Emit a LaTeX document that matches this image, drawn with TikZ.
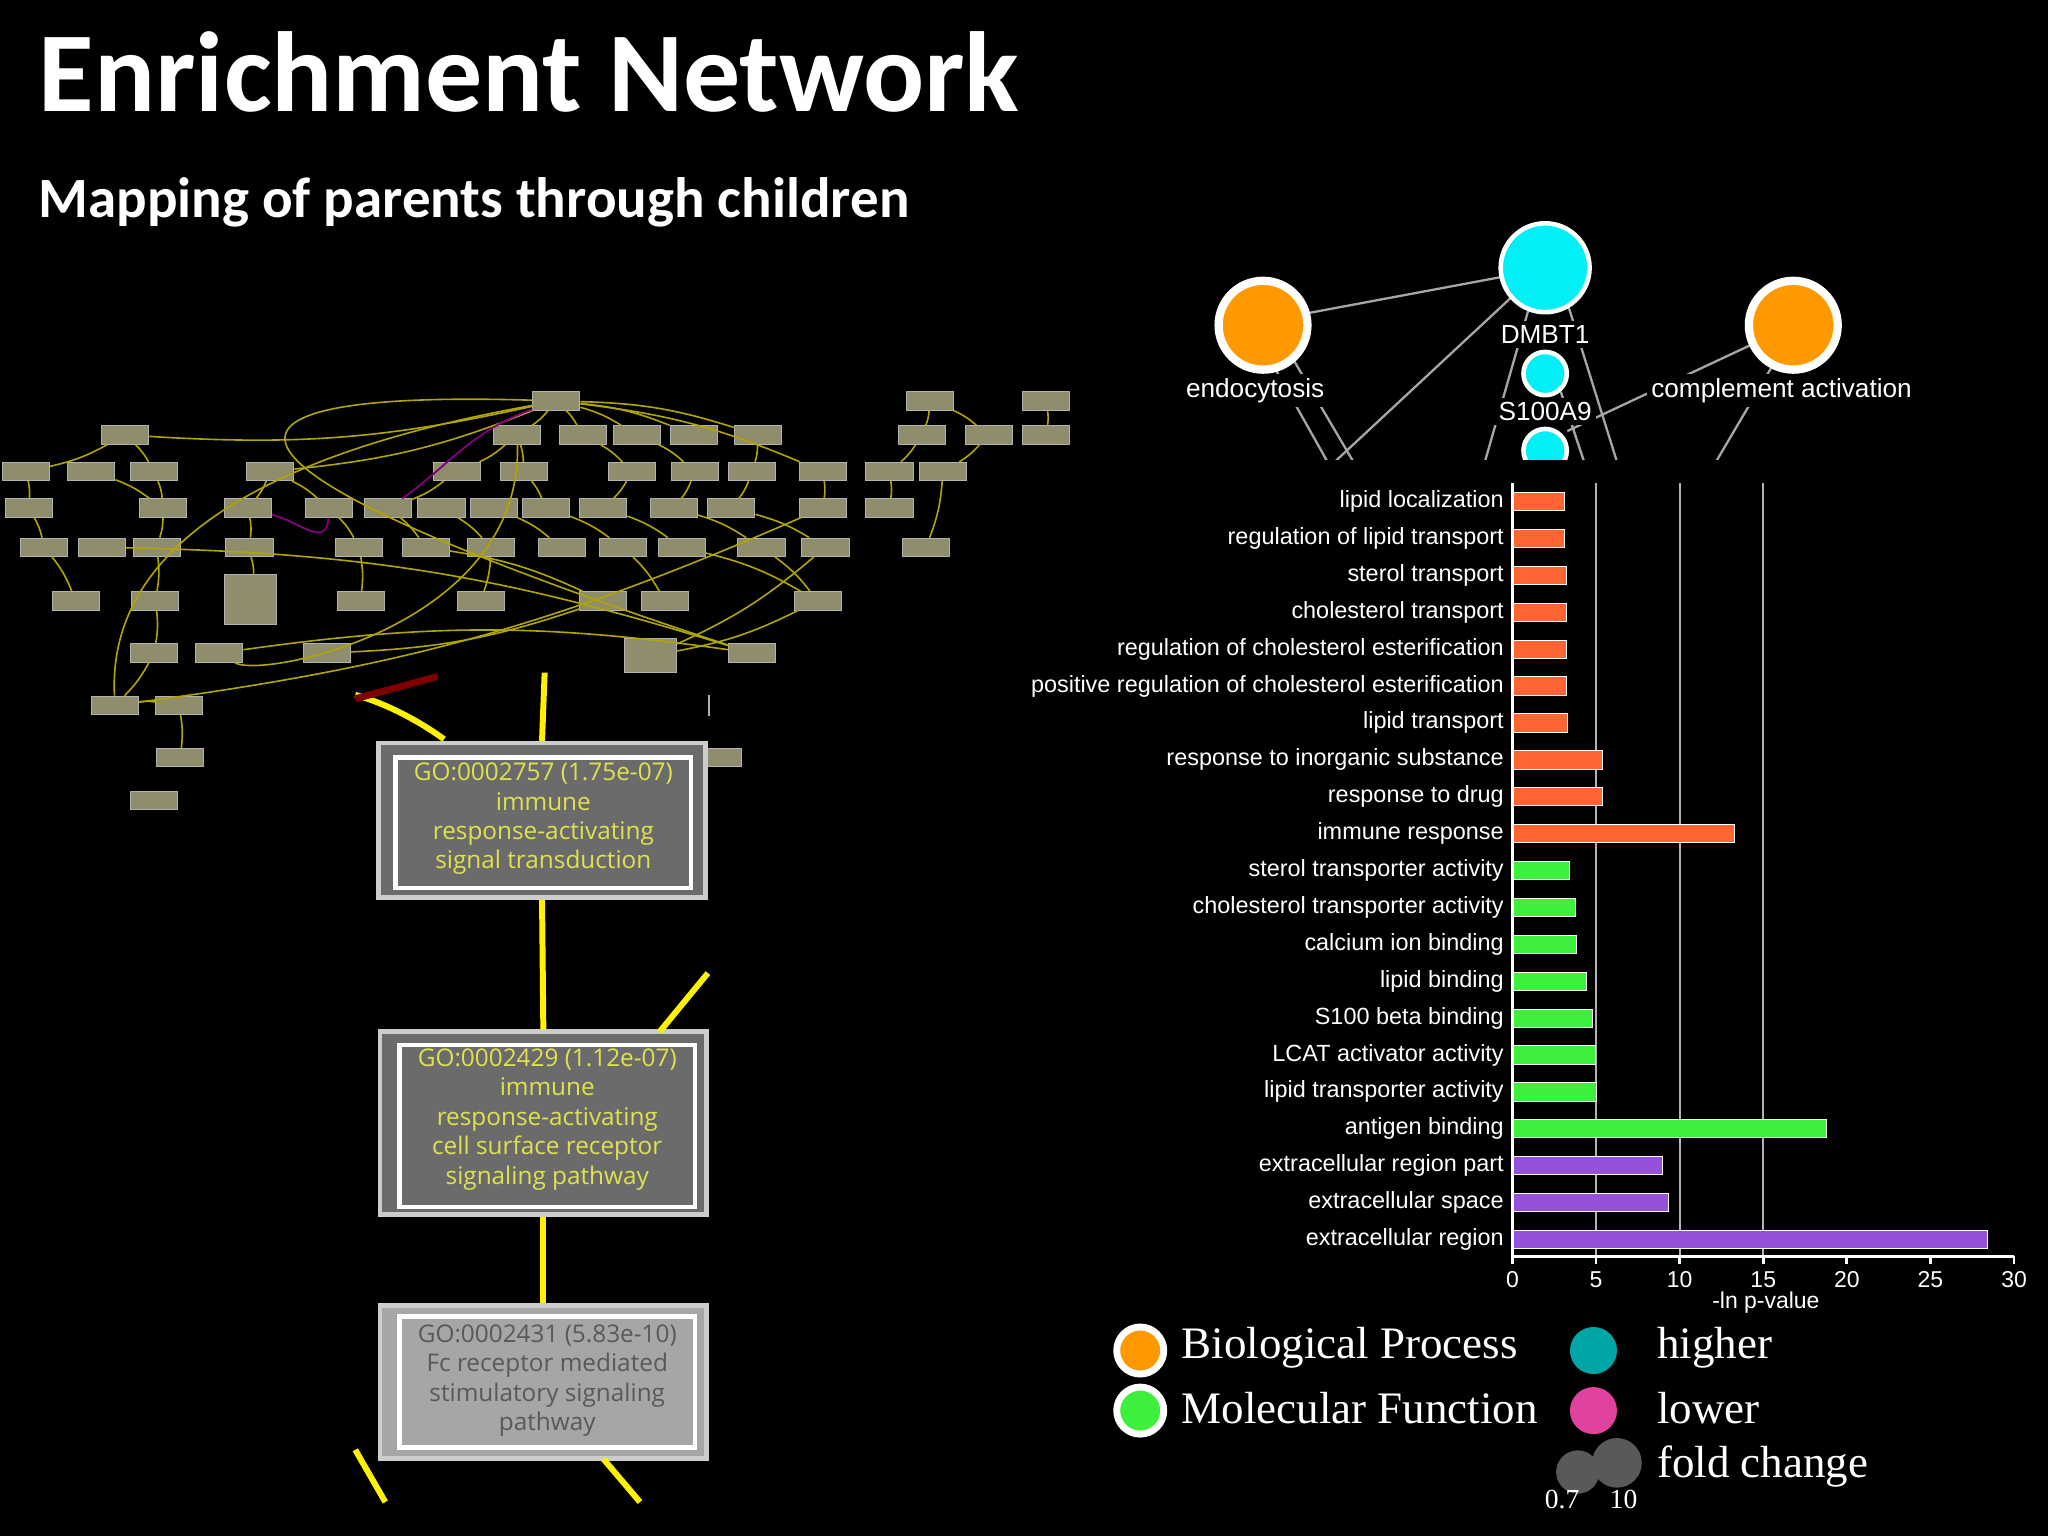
\documentclass[tikz,border=0pt]{standalone}
\usepackage{fontspec}
\setmainfont{Liberation Sans}
\newfontfamily\calfnt{Carlito}
\newfontfamily\serfnt{Liberation Serif}
\newfontfamily\opfnt{Open Sans}
\definecolor{aqua}{RGB}{0,240,245}
\definecolor{orng}{RGB}{255,153,0}
\definecolor{barred}{RGB}{255,100,50}
\definecolor{bargrn}{RGB}{60,240,60}
\definecolor{barpur}{RGB}{150,80,220}
\definecolor{boxtext}{RGB}{225,225,80}
\begin{document}
\begin{tikzpicture}[x=0.01cm,y=-0.01cm,
  sbox/.style={draw=gray!60,fill=gray!75!olive,minimum width=0.36cm,minimum height=0.14cm,inner sep=0,line width=0.2pt},
  sedge/.style={draw=olive!70!yellow,line width=0.35pt},
  bigbox/.style={fill=black!58,draw=gray!40,line width=1pt,minimum width=2.5cm,inner sep=0},
  boxtxt/.style={align=center,font=\opfnt\fontsize{5.3}{6.4}\selectfont,text=boxtext},
  yl/.style={draw=yellow,line width=1.3pt},
  blab/.style={anchor=east,inner sep=0,font=\fontsize{5.1}{6}\selectfont,text=white},
  bar/.style={draw=white,line width=0.2pt},
  glab/.style={text=white,font=\fontsize{5.7}{7}\selectfont},
  leg/.style={text=white,anchor=west,inner sep=0,font=\serfnt\fontsize{9.8}{11}\selectfont}]
\fill[black] (0,0) rectangle (1568,1176);
\useasboundingbox (0,0) rectangle (1568,1176);
\node[anchor=west,inner sep=0,text=white,font=\calfnt\bfseries\fontsize{24.8}{28}\selectfont] (title) at (29,55) {Enrichment Network};
\node[anchor=west,inner sep=0,text=white,font=\calfnt\bfseries\fontsize{12.4}{14}\selectfont] (sub) at (29,155) {Mapping of parents through children};

% small network
\foreach \x/\y [count=\i] in {426/307,712/307,801/307,
 96/333,396/333,446/333,488/333,531/333,580/333,706/333,757/333,801/333,
 20/361,70/361,118/361,207/361,350/361,401/361,484/361,532/361,576/361,630/361,681/361,722/361,
 22/389,125/389,190/389,252/389,297/389,338/389,378/389,418/389,462/389,516/389,560/389,630/389,681/389,
 34/419,78/419,120/419,191/419,275/419,326/419,376/419,430/419,477/419,522/419,583/419,632/419,709/419,
 58/460,119/460,276/460,368/460,462/460,509/460,626/460,
 118/500,168/500,250/500,576/500,88/540,137/540,138/580,118/613,550/580}
  \node[sbox] (s\i) at (\x,\y) {};
\node[sbox,minimum width=0.4cm,minimum height=0.38cm] (s65) at (192,459) {};
\node[sbox,minimum width=0.4cm,minimum height=0.26cm] (s66) at (498,502) {};
\foreach \a/\b in {1/4,1/5,1/6,1/7,1/9,1/16,1/22,1/8,4/13,4/15,5/17,5/18,6/19,7/20,9/21,16/28,17/29,18/32,19/33,20/34,21/35,
  2/10,2/11,10/23,11/24,3/12,23/37,24/50,13/25,14/26,15/26,26/40,25/38,38/51,40/52,16/27,27/41,28/42,29/43,30/44,31/45,32/46,
  33/47,34/48,35/49,36/62,42/53,44/54,46/56,47/57,48/57,52/58,58/62,62/63,63/64,39/61,41/65,43/55,55/60,57/66,49/66,59/61,22/36}
  \draw[sedge] (s\a) to[bend left=8] (s\b);
\draw[sedge] (s1) .. controls (200,300) and (60,330) .. (s61);
\draw[sedge] (s1) .. controls (300,330) and (80,380) .. (s62);
\draw[sedge] (s5) .. controls (400,480) and (200,520) .. (s59);
\draw[draw=violet,line width=0.4pt] (s1) .. controls (360,330) and (340,360) .. (s29);
\draw[draw=violet,line width=0.4pt] (s27) .. controls (230,400) and (250,420) .. (s28);

% zoomed region
\fill[black] (270,515) rectangle (542,1152);
\draw[yl] (272,532) .. controls (300,540) and (325,555) .. (340,566);
\draw[draw=red!50!black,line width=1.5pt] (272,535) -- (335,518);
\node[bigbox,minimum height=1.18cm] (b1) at (415,628) {};
\node[draw=white,line width=1pt,minimum width=2.26cm,minimum height=1.0cm] (b1i) at (416,630) {};
\node[boxtxt] (t1) at (416,627) {GO:0002757 (1.75e-07)\\immune\\response-activating\\signal transduction};
\node[bigbox,minimum height=1.4cm] (b2) at (416,860) {};
\node[draw=white,line width=1pt,minimum width=2.26cm,minimum height=1.24cm] (b2i) at (419,862) {};
\node[boxtxt] (t2) at (419,857) {GO:0002429 (1.12e-07)\\immune\\response-activating\\cell surface receptor\\signaling pathway};
\node[bigbox,fill=black!35,minimum height=1.17cm] (b3) at (416,1058) {};
\node[draw=white,line width=1pt,minimum width=2.26cm,minimum height=1.0cm] (b3i) at (419,1058) {};
\node[boxtxt,text=black!65] (t3) at (419,1057) {GO:0002431 (5.83e-10)\\Fc receptor mediated\\stimulatory signaling\\pathway};
\coordinate (top) at (417,515);
\draw[yl] (top) -- (b1.north);
\draw[yl] (b1.south) -- (b2.north);
\draw[yl] (b2.south) -- (b3.north);
\draw[yl] (505,790) -- (542,745);
\draw[yl] (272,1110) -- (295,1150);
\draw[yl] (462,1117) -- (490,1150);
\draw[draw=gray!60,line width=0.4pt] (543,532) -- (543,548);

% top network
\begin{scope}
\clip (880,150) rectangle (1500,352);
\draw[gray!70,line width=0.5pt] (1000,240) -- (1150,212);
\draw[gray!70,line width=0.5pt] (1160,225) -- (1015,360);
\draw[gray!70,line width=0.5pt] (990,275) -- (1040,360);
\draw[gray!70,line width=0.5pt] (975,280) -- (1020,360);
\draw[gray!70,line width=0.5pt] (1170,238) -- (1135,360);
\draw[gray!70,line width=0.5pt] (1200,232) -- (1240,360);
\draw[gray!70,line width=0.5pt] (1200,330) -- (1345,262);
\draw[gray!70,line width=0.5pt] (1195,300) -- (1215,360);
\draw[gray!70,line width=0.5pt] (1360,275) -- (1310,360);
\node[circle,fill=aqua,draw=white,line width=1pt,minimum size=0.28cm] (c3) at (1183,345) {};
\end{scope}
\node[circle,fill=orng,draw=white,line width=1.8pt,minimum size=0.68cm] (endo) at (967,249) {};
\node[circle,fill=aqua,draw=white,line width=1pt,minimum size=0.68cm] (dmbt) at (1183,205) {};
\node[circle,fill=aqua,draw=white,line width=1pt,minimum size=0.28cm] (s100) at (1183,286) {};
\node[circle,fill=orng,draw=white,line width=1.8pt,minimum size=0.68cm] (comp) at (1373,249) {};
\node[glab,fill=black,inner sep=1pt] at (961,299) {endocytosis};
\node[glab,fill=black,inner sep=1pt] at (1183,256) {DMBT1};
\node[glab,fill=black,inner sep=1pt] at (1183,315) {S100A9};
\node[glab,fill=black,inner sep=1pt] at (1364,299) {complement activation};

% bar chart
\foreach \v in {5,10,15} \draw[gray!60,line width=0.5pt] (1158+12.8*\v,370) -- (1158+12.8*\v,962);
\foreach \t/\v/\c [count=\i from 0] in {lipid localization/3.1/barred,regulation of lipid transport/3.1/barred,sterol transport/3.2/barred,cholesterol transport/3.2/barred,regulation of cholesterol esterification/3.2/barred,positive regulation of cholesterol esterification/3.2/barred,lipid transport/3.3/barred,response to inorganic substance/5.4/barred,response to drug/5.4/barred,immune response/13.3/barred,
 sterol transporter activity/3.4/bargrn,cholesterol transporter activity/3.75/bargrn,calcium ion binding/3.8/bargrn,lipid binding/4.4/bargrn,S100 beta binding/4.8/bargrn,LCAT activator  activity/4.95/bargrn,lipid transporter activity/5.0/bargrn,antigen binding/18.75/bargrn,
 extracellular region part/9.0/barpur,extracellular space/9.3/barpur,extracellular region/28.4/barpur}{
  \node[blab] (l\i) at (1152,384+28.25*\i) {\t};
  \draw[bar,fill=\c] (1158,377+28.25*\i) rectangle (1158+12.8*\v,391+28.25*\i);
}
\draw[white,line width=0.6pt] (1158,370) -- (1158,962) -- (1542,962);
\foreach \v in {0,5,...,30} {
  \draw[white,line width=0.6pt] (1158+12.8*\v,962) -- (1158+12.8*\v,968);
  \node[text=white,font=\fontsize{5}{6}\selectfont] at (1158+12.8*\v,980) {\v};
}
\node[text=white,font=\fontsize{5}{6}\selectfont] (xl) at (1352,997) {-ln p-value};

% legend
\node[circle,fill=orng,draw=white,line width=1.5pt,minimum size=0.36cm] (lg1) at (873,1034) {};
\node[circle,fill=bargrn,draw=white,line width=1.5pt,minimum size=0.36cm] (lg2) at (873,1080) {};
\node[leg] at (904,1032) {Biological Process};
\node[leg] at (904,1078) {Molecular Function};
\node[circle,fill=teal!70!cyan,minimum size=0.36cm] (lg3) at (1220,1034) {};
\node[circle,fill=magenta!80!violet!80!white,minimum size=0.36cm] (lg4) at (1220,1080) {};
\node[circle,fill=gray!70!black,minimum size=0.24cm] (lg5) at (1208,1127) {};
\node[circle,fill=gray!70!black,minimum size=0.38cm] (lg6) at (1238,1120) {};
\node[leg] at (1268,1032) {higher};
\node[leg] at (1268,1078) {lower};
\node[leg] at (1268,1123) {fold change};
\node[text=white,font=\serfnt\fontsize{6}{7}\selectfont] at (1196,1148) {0.7};
\node[text=white,font=\serfnt\fontsize{6}{7}\selectfont] at (1243,1148) {10};
\end{tikzpicture}
\end{document}
